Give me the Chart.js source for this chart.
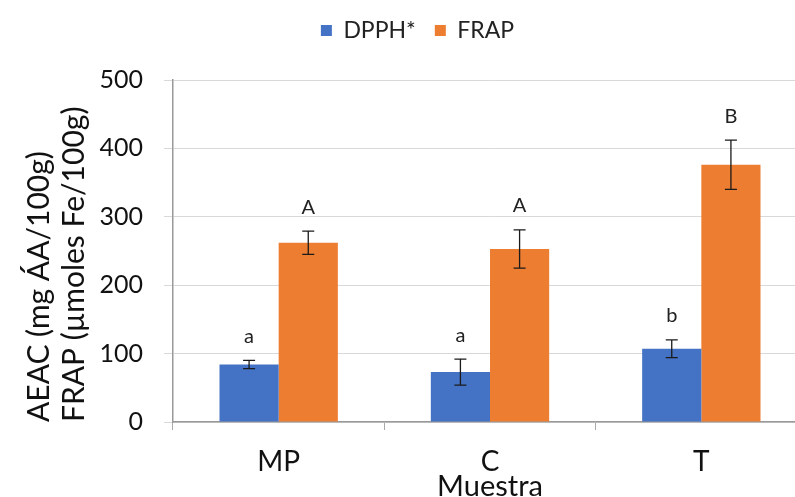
<!DOCTYPE html>
<html>
<head>
<meta charset="utf-8">
<script src="https://cdn.jsdelivr.net/npm/chart.js@4"></script>
<style>
html,body{margin:0;padding:0;background:#fff;overflow:hidden;}
#wrap{position:absolute;left:0;top:0;width:807px;height:497px;}
</style>
</head>
<body>
<div id="wrap"><canvas id="c"></canvas></div>
<script>
const categories = ["MP", "C", "T"];
const seriesNames = ["DPPH*", "FRAP"];
const dpphValues = [84, 73, 107];
const dpphErrors = [6, 19, 13];
const frapValues = [262, 253, 376];
const frapErrors = [17, 28, 36];
const dpphLetters = ["a", "a", "b"];
const frapLetters = ["A", "A", "B"];
const yTicks = [0, 100, 200, 300, 400, 500];

const errorData = [dpphErrors, frapErrors];
const letterData = [dpphLetters, frapLetters];
const FONT = 'Lato, "Liberation Sans", sans-serif';

const layoutPlugin = {
  id: 'fixlayout',
  afterInit(chart) {
    const lg = chart.legend;
    if (lg) {
      const origFit = lg.fit;
      lg.fit = function () { origFit.call(this); this.height = 80; };
    }
  },
  afterLayout(chart) {
    const lg = chart.legend;
    if (lg) { lg.left += 14; lg.right += 14; }
  }
};

const errorPlugin = {
  id: 'errbars',
  afterDatasetsDraw(chart) {
    const ctx = chart.ctx;
    const y = chart.scales.y;
    ctx.save();
    chart.data.datasets.forEach((ds, di) => {
      const meta = chart.getDatasetMeta(di);
      meta.data.forEach((bar, i) => {
        const v = ds.data[i];
        const e = errorData[di][i];
        const x = bar.x;
        const yt = y.getPixelForValue(v + e);
        const yb = y.getPixelForValue(v - e);
        ctx.strokeStyle = '#1a1a1a';
        ctx.lineWidth = 1.3;
        ctx.beginPath();
        ctx.moveTo(x, yt); ctx.lineTo(x, yb);
        ctx.moveTo(x - 6, yt); ctx.lineTo(x + 6, yt);
        ctx.moveTo(x - 6, yb); ctx.lineTo(x + 6, yb);
        ctx.stroke();
        ctx.fillStyle = '#222';
        ctx.font = '20px ' + FONT;
        ctx.textAlign = 'center';
        ctx.textBaseline = 'middle';
        ctx.fillText(letterData[di][i], x, yt - 24);
      });
    });
    ctx.restore();
  }
};

new Chart(document.getElementById('c'), {
  type: 'bar',
  data: {
    labels: categories,
    datasets: [
      { label: seriesNames[0], data: dpphValues, backgroundColor: '#4472C4', barPercentage: 1, categoryPercentage: 0.56 },
      { label: seriesNames[1], data: frapValues, backgroundColor: '#ED7D31', barPercentage: 1, categoryPercentage: 0.56 }
    ]
  },
  options: {
    responsive: true,
    maintainAspectRatio: false,
    animation: false,
    devicePixelRatio: 1,
    layout: { padding: 0 },
    plugins: {
      legend: {
        position: 'top',
        align: 'center',
        labels: {
          boxWidth: 11, boxHeight: 11, padding: 19,
          color: '#222',
          font: { family: FONT, size: 23 }
        }
      },
      tooltip: { enabled: false }
    },
    scales: {
      x: {
        afterFit(axis) { axis.height = 75; },
        grid: { display: true, drawOnChartArea: false, offset: true, tickLength: 8, color: '#aaa' },
        border: { color: '#999', width: 1.5 },
        ticks: { color: '#111', font: { family: FONT, size: 28 }, padding: 15 },
        title: { display: true, text: 'Muestra', color: '#111', padding: { top: 0, bottom: -7 }, font: { family: FONT, size: 29 } }
      },
      y: {
        min: 0, max: 500,
        afterBuildTicks(axis) { axis.ticks = yTicks.map(v => ({ value: v })); },
        afterFit(axis) { axis.width = 173; },
        grid: { color: '#d9d9d9', tickLength: 9, lineWidth: 1 },
        border: { color: '#999', width: 1.5 },
        ticks: { color: '#111', font: { family: FONT, size: 25 }, padding: 21 },
        title: { display: true, align: 'start', text: ['AEAC (mg ÁA/100g)', 'FRAP (µmoles Fe/100g)'], color: '#111', padding: { top: 22, bottom: 0 }, font: { family: FONT, size: 30, lineHeight: 1.17 } }
      }
    }
  },
  plugins: [layoutPlugin, errorPlugin]
});
</script>
</body>
</html>
